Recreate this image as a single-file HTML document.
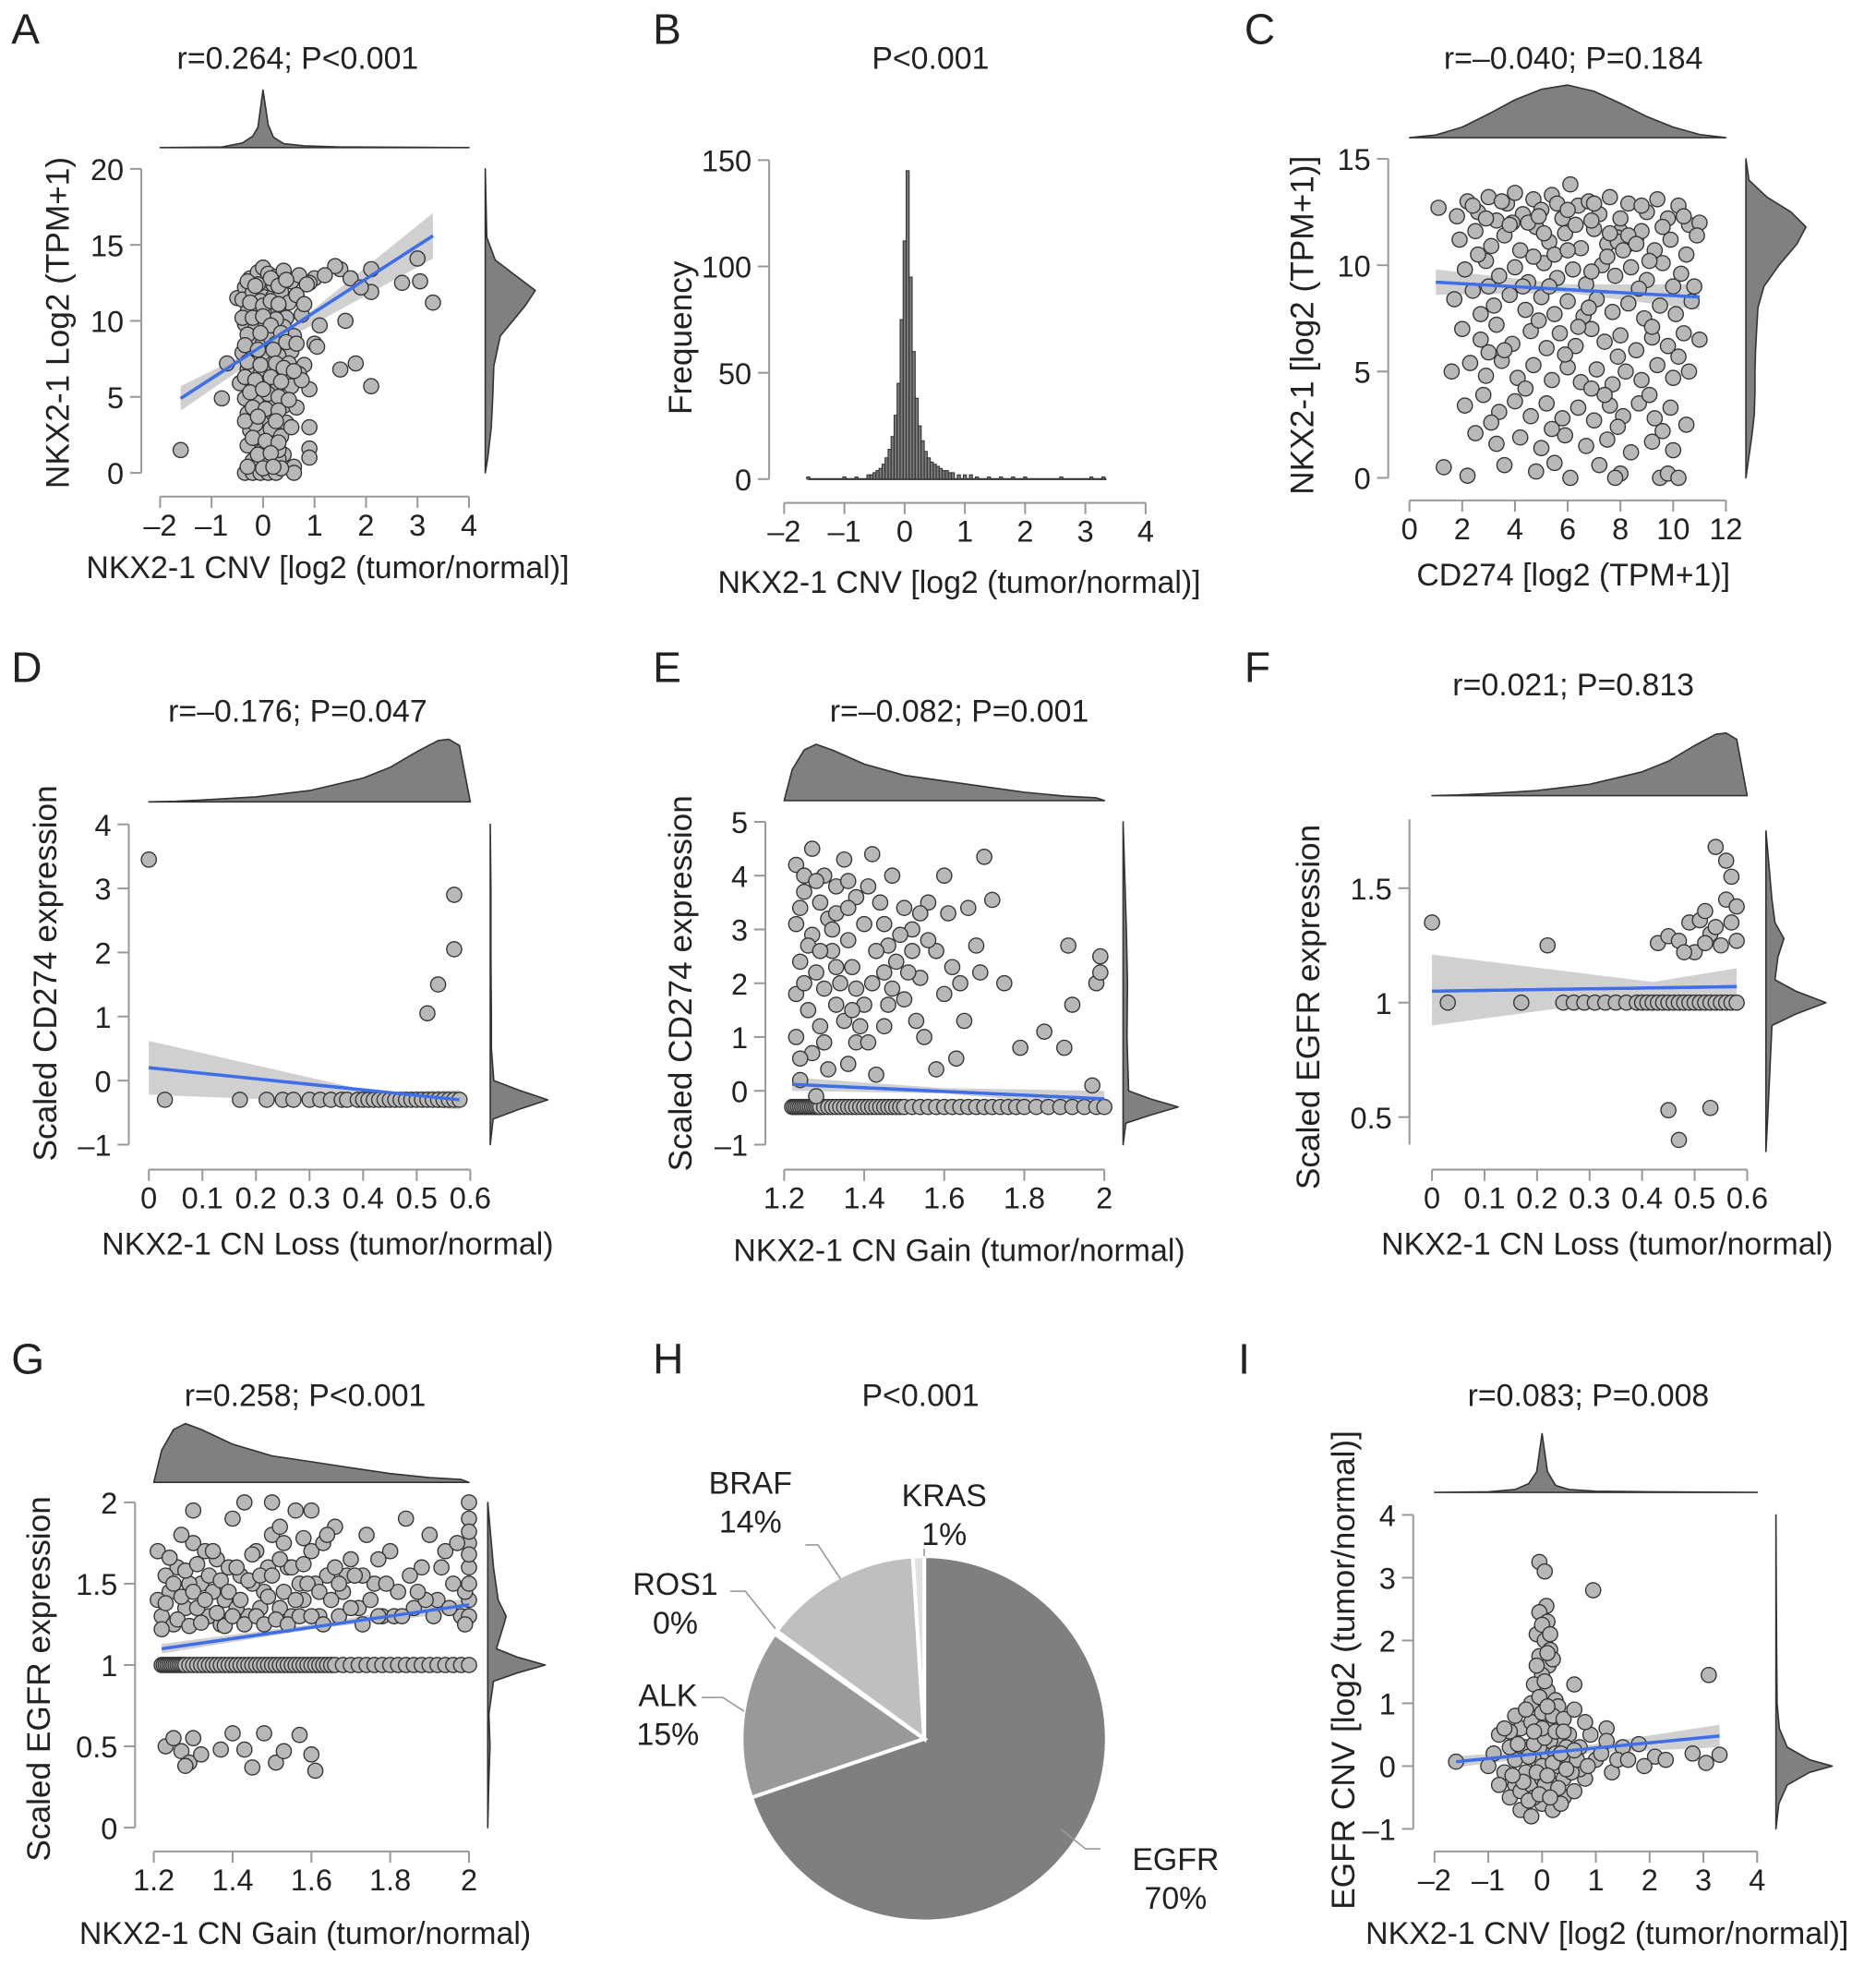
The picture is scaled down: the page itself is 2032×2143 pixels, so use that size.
<!DOCTYPE html>
<html><head><meta charset="utf-8"><style>
html,body{margin:0;padding:0;background:#fff;}
svg{display:block;font-family:"Liberation Sans",Arial,sans-serif;}
</style></head><body>
<svg id="fig" width="2032" height="2143" viewBox="0 0 1500 1582" preserveAspectRatio="none" xmlns="http://www.w3.org/2000/svg"></svg>
<script>
// ---------- DATA ----------
const aPoints=[[-1.6,1.5],[-0.8,4.9],[-0.7,7.2],[-0.5,11.5],[1.1,9.7],[1.5,6.8],[1.6,10],[1.8,7.2],[2.1,5.7],[2.7,12.5],[3.05,12.6],[3.3,11.2],[3.0,14.1],[2.1,11.9],[2.1,13.4],[1.5,13.4],[1.4,13.6],[1.7,12.8],[1.9,12.2],[1.0,8.5],[1.05,8.3],[0.9,5.5],[0.9,3],[0.9,1.6],[0.9,1],[0.6,0.4],[0.8,7.1],[0.7,6.5],[1.0,12.8],[1.2,13],[0.9,12.5],
[-0.35,12.2],[-0.25,12.8],[-0.1,13.2],[0,13.5],[0.1,13.1],[0.25,12.9],[0.4,13.3],[0.55,12.6],[0.7,13.0],[0.85,12.4],[-0.4,11.4],[-0.2,11.9],[0.05,12.0],[0.2,11.6],[0.35,11.9],[0.5,11.2],[0.65,11.7],[-0.3,10.6],[-0.1,10.9],[0.1,10.4],[0.3,10.7],[0.45,10.2],[-0.35,9.8],[-0.15,9.5],[0.05,9.9],[0.2,9.3],[0.4,9.6],[-0.25,8.8],[0,8.6],[0.15,8.9],[0.35,8.3],[0.55,8.0],[-0.4,7.9],[-0.2,7.6],[0.1,7.4],[0.3,7.7],[0.5,7.2],[-0.3,6.8],[-0.05,6.5],[0.2,6.9],[0.45,6.4],[-0.45,5.9],[-0.2,5.6],[0.05,5.9],[0.25,5.4],[0.55,5.7],[-0.35,4.9],[-0.1,4.6],[0.15,4.8],[0.4,4.4],[-0.3,3.9],[0,3.6],[0.2,3.9],[0.45,3.3],[-0.25,2.8],[-0.05,2.5],[0.15,2.9],[0.35,2.4],[-0.3,1.8],[0,1.5],[0.2,1.9],[0.4,1.2],[-0.2,0.8],[0.05,0.6],[0.3,0.9],[-0.35,0],[-0.2,0],[-0.05,0],[0.1,0],[0.25,0],[0.1,12.5],[-0.05,11.3],[0.25,10.1],[0.0,7.9],[0.1,5.2],[-0.15,3.2],[0.3,1.5],[0.6,9.0],[0.65,4.3],[0.75,6.1],[0.6,0],[0.35,0.3],[-0.1,12.4],[0.2,12.4],
[-0.3,12.6],[-0.15,12.3],[0.15,12.8],[0.3,12.3],[0.45,12.7],[-0.25,11.2],[0,11.0],[0.15,11.3],[0.3,11.1],[-0.4,10.2],[-0.2,10.2],[0.0,10.3],[0.15,9.7],[0.35,9.2],[-0.3,9.1],[-0.05,9.2],[0.25,8.5],[0.45,8.6],[-0.35,8.4],[-0.1,8.1],[0.2,8.1],[-0.3,7.3],[-0.05,7.1],[0.25,7.2],[0.4,6.9],[-0.35,6.3],[-0.15,6.1],[0.15,6.3],[0.35,6.0],[-0.25,5.3],[0,5.5],[0.3,5.0],[-0.2,4.3],[0.05,4.2],[0.3,4.1],[-0.35,3.4],[-0.1,3.7],[0.25,3.4],[-0.2,2.3],[0.05,2.1],[0.3,2.0],[-0.1,1.2],[0.15,1.3],[-0.3,0.4],[0,0.3],[0.2,0.4],[0.55,3.0],[0.5,4.8],[0.6,6.7],[0.65,8.5],[0.75,10.4],[0.8,11.1]];
const aFit=[[-1.6,4.9],[3.3,15.6]];
const aBand=[[-1.6,4.1,5.7],[0.3,8.5,8.9],[3.3,14.1,17.1]];

const bBins=[-1.6,-1.0,-0.8,-0.6,-0.55,-0.5,-0.45,-0.4,-0.35,-0.3,-0.25,-0.2,-0.15,-0.1,-0.05,0,0.05,0.1,0.15,0.2,0.25,0.3,0.35,0.4,0.45,0.5,0.55,0.6,0.65,0.7,0.75,0.8,0.9,1.0,1.1,1.2,1.4,1.6,1.8,2.0,2.6,3.1,3.3];
const bCounts=[1,1,1,2,2,3,4,5,7,10,14,20,30,45,75,112,145,95,60,38,25,18,13,10,8,7,6,5,4,4,3,3,2,2,2,1,1,1,1,1,1,1,1];

const cPoints=[[1.1,12.7],[1.8,12.3],[2.2,13.0],[2.6,12.5],[3.0,13.2],[3.3,12.1],[3.7,12.9],[4.0,13.4],[4.3,12.4],[4.7,13.1],[5.0,12.6],[5.4,13.3],[5.8,12.2],[6.1,13.8],[6.4,12.8],[6.8,13.0],[7.2,12.4],[7.6,13.2],[8.0,11.6],[8.3,12.9],[8.6,11.3],[9.0,12.5],[9.4,13.1],[9.8,12.2],[10.2,12.8],[10.6,11.9],[11.0,12.0],
[1.9,11.2],[2.5,11.6],[3.1,10.9],[3.6,11.4],[4.2,10.7],[4.8,11.8],[5.3,11.1],[5.9,11.5],[6.5,10.8],[7.0,11.7],[7.5,11.0],[7.9,11.3],[8.2,10.9],[8.8,11.6],[9.3,10.7],[9.9,11.2],[10.5,10.5],[10.9,11.4],
[2.1,9.8],[2.9,10.2],[3.4,9.5],[4.0,9.9],[4.5,9.2],[5.1,10.1],[5.6,9.4],[6.2,9.8],[6.7,9.1],[7.3,10.0],[7.8,9.5],[8.4,9.9],[9.0,9.3],[9.6,10.1],[10.3,9.6],[10.8,9.0],
[1.7,8.4],[2.4,8.8],[3.2,8.1],[3.8,8.6],[4.4,7.9],[5.0,8.5],[5.5,7.7],[6.0,8.3],[6.6,7.6],[7.1,8.4],[7.7,7.8],[8.3,8.2],[8.9,7.5],[9.5,8.1],[10.1,7.7],[10.7,8.3],
[2.0,7.0],[2.7,6.5],[3.3,7.2],[3.9,6.3],[4.6,6.9],[5.2,6.1],[5.7,6.8],[6.3,6.2],[6.9,7.0],[7.4,6.4],[8.0,6.7],[8.6,6.0],[9.2,6.6],[9.8,6.2],[10.4,6.8],[11.0,6.5],
[1.6,5.0],[2.3,5.4],[2.9,4.8],[3.5,5.5],[4.1,4.7],[4.7,5.3],[5.4,4.6],[6.0,5.2],[6.5,4.5],[7.1,5.1],[7.7,4.4],[8.2,5.0],[8.8,4.6],[9.4,5.3],[10.0,4.7],[10.6,5.0],
[2.1,3.4],[2.8,3.9],[3.4,3.1],[4.0,3.6],[4.6,2.9],[5.2,3.5],[5.8,2.8],[6.4,3.3],[7.0,2.7],[7.6,3.4],[8.1,2.9],[8.7,3.5],[9.3,2.8],[9.9,3.3],[10.5,2.5],
[2.5,2.1],[3.3,1.6],[4.2,1.9],[5.0,1.4],[5.9,2.0],[6.7,1.5],[7.5,1.8],[8.4,1.2],[9.2,1.7],[10.0,1.3],
[1.3,0.5],[2.2,0.1],[3.6,0.6],[4.8,0.3],[6.1,0.0],[7.2,0.6],[8.0,0.2],[9.5,0.0],[9.8,0.2],[10.2,0.0],[5.5,0.7],[7.8,0.0],
[7.9,11.1],[8.3,11.4],[8.1,10.7],[7.6,11.5],[8.6,11.0],[4.5,12.0],[5.6,12.9],[3.9,12.0],[6.9,12.1],[2.9,12.2],[5.5,10.5],[4.3,9.0],[6.4,7.1],[3.0,5.9],[7.4,3.9],
[2.4,12.8],[3.5,13.0],[4.9,12.3],[6.0,12.6],[7.0,12.9],[8.8,12.8],[9.6,11.8],[10.4,12.3],[3.8,11.9],[5.1,11.5],[6.3,11.9],[8.0,12.2],[2.6,10.5],[4.7,10.4],[6.0,10.7],[7.5,10.4],[9.1,10.2],[3.0,9.0],[5.3,9.0],[6.9,9.7],[8.7,8.9],[10.0,9.0],[2.7,7.7],[4.9,7.4],[6.8,8.0],[9.2,7.1],[3.6,6.0],[5.9,5.8],[7.9,5.7],[10.2,5.7],[4.4,4.2],[6.9,4.2],[9.1,3.9],[3.1,2.6],[5.4,2.3],[7.9,2.4],[9.6,2.2]];
const cFit=[[1,9.2],[11,8.5]];
const cBand=[[1,8.6,9.8],[6,8.7,9.1],[11,7.9,9.1]];

const dRowX=[0.03,0.17,0.22,0.25,0.27,0.3,0.32,0.34,0.36,0.37,0.39,0.4,0.41,0.42,0.43,0.44,0.45,0.46,0.47,0.48,0.49,0.5,0.51,0.52,0.53,0.54,0.55,0.56,0.57,0.58];
const dRowY=-0.3;
const dExtra=[[0,3.45],[0.52,1.05],[0.54,1.5],[0.57,2.05],[0.57,2.9]];
const dFit=[[0,0.2],[0.58,-0.3]];
const dBand=[[0,-0.22,0.62],[0.42,-0.36,-0.18],[0.58,-0.45,-0.15]];

const eRowX=[1.22,1.225,1.23,1.235,1.24,1.245,1.25,1.255,1.26,1.265,1.27,1.275,1.28,1.285,1.29,1.3,1.31,1.32,1.33,1.34,1.35,1.36,1.37,1.38,1.39,1.4,1.41,1.42,1.43,1.44,1.45,1.46,1.47,1.48,1.49,1.5,1.52,1.54,1.56,1.58,1.6,1.62,1.64,1.66,1.68,1.7,1.72,1.74,1.76,1.78,1.8,1.83,1.86,1.89,1.92,1.95,1.98,2.0];
const eRowY=-0.3;
const eExtra=[[1.23,4.2],[1.27,4.5],[1.3,4.0],[1.35,4.3],[1.42,4.4],[1.47,4.0],[1.25,3.7],[1.29,3.5],[1.33,3.8],[1.38,3.6],[1.44,3.5],[1.5,3.4],[1.56,3.5],[1.61,3.3],[1.66,3.4],[1.23,3.1],[1.27,2.9],[1.31,3.2],[1.36,2.8],[1.4,3.1],[1.46,2.7],[1.52,3.0],[1.58,2.6],[1.68,2.7],[1.24,2.4],[1.28,2.2],[1.32,2.6],[1.37,2.3],[1.42,2.0],[1.48,2.4],[1.54,2.1],[1.6,1.8],[1.23,1.8],[1.26,1.5],[1.3,1.9],[1.35,1.3],[1.4,1.6],[1.45,1.2],[1.5,1.7],[1.23,1.0],[1.27,0.7],[1.31,0.4],[1.38,0.9],[1.43,0.3],[1.55,1.0],[1.63,0.6],[1.24,0.2],[1.28,-0.1],[1.6,4.0],[1.7,4.35],[1.72,3.55],[1.75,2.0],[1.79,0.8],[1.85,1.1],[1.9,0.8],[1.91,2.7],[1.92,1.6],[1.97,0.1],[1.98,2.0],[1.99,2.5],[1.99,2.2],[1.65,1.3],[1.58,0.4],[1.34,2.0],[1.45,2.2],[1.26,2.7],[1.39,1.2],[1.52,2.6],[1.62,2.3],[1.33,3.3],[1.25,4.0],[1.36,3.9],
[1.24,3.4],[1.28,3.9],[1.32,3.0],[1.36,3.4],[1.41,3.8],[1.45,3.1],[1.49,2.9],[1.54,3.3],[1.25,2.0],[1.29,2.6],[1.33,2.3],[1.38,1.9],[1.43,2.6],[1.47,1.9],[1.51,2.2],[1.56,2.8],[1.29,1.2],[1.33,1.6],[1.37,1.5],[1.41,0.9],[1.46,1.6],[1.53,1.3],[1.24,0.6],[1.3,0.9],[1.36,0.5],[1.64,2.0],[1.69,2.2]];
const eFit=[[1.22,0.12],[2,-0.15]];
const eBand=[[1.22,0.0,0.25],[1.6,-0.05,0.05],[2,-0.3,0.0]];

const fRowX=[0.17,0.25,0.27,0.29,0.31,0.33,0.35,0.37,0.39,0.4,0.41,0.42,0.43,0.44,0.45,0.46,0.47,0.48,0.49,0.5,0.51,0.52,0.53,0.54,0.55,0.56,0.57,0.58];
const fRowY=1;
const fExtra=[[0,1.35],[0.03,1.0],[0.22,1.25],[0.45,0.53],[0.47,0.4],[0.53,0.54],[0.43,1.26],[0.45,1.29],[0.47,1.27],[0.49,1.35],[0.5,1.22],[0.51,1.36],[0.52,1.4],[0.53,1.3],[0.54,1.68],[0.55,1.25],[0.56,1.62],[0.56,1.45],[0.57,1.35],[0.57,1.55],[0.58,1.27],[0.58,1.42],[0.48,1.22],[0.54,1.33],[0.52,1.26]];
const fFit=[[0,1.05],[0.58,1.07]];
const fBand=[[0,0.9,1.21],[0.42,1.03,1.09],[0.58,0.99,1.15]];

const gRowX=[1.22,1.225,1.23,1.235,1.24,1.245,1.25,1.255,1.26,1.265,1.27,1.275,1.28,1.29,1.3,1.31,1.32,1.33,1.34,1.35,1.36,1.37,1.38,1.39,1.4,1.41,1.42,1.43,1.44,1.45,1.46,1.47,1.48,1.49,1.5,1.51,1.52,1.53,1.54,1.55,1.56,1.57,1.58,1.59,1.6,1.61,1.62,1.63,1.64,1.65,1.66,1.68,1.7,1.72,1.74,1.76,1.78,1.8,1.82,1.84,1.86,1.88,1.9,1.92,1.94,1.96,1.98,2.0];
const gRowY=1;
const gExtra=[[1.23,0.5],[1.25,0.55],[1.27,0.47],[1.29,0.4],[1.3,0.55],[1.32,0.45],[1.37,0.48],[1.4,0.58],[1.43,0.48],[1.48,0.58],[1.51,0.4],[1.53,0.47],[1.57,0.57],[1.6,0.45],[1.61,0.35],[1.28,0.38],[1.45,0.37],
[1.22,1.3],[1.24,1.45],[1.26,1.6],[1.28,1.35],[1.3,1.75],[1.32,1.5],[1.34,1.3],[1.36,1.65],[1.38,1.4],[1.4,1.9],[1.42,1.55],[1.44,1.3],[1.46,1.7],[1.48,1.45],[1.5,1.8],[1.52,1.35],[1.54,1.6],[1.56,1.95],[1.58,1.4],[1.6,1.7],[1.62,1.3],[1.64,1.55],[1.66,1.85],[1.68,1.45],[1.7,1.65],[1.72,1.35],[1.74,1.8],[1.76,1.5],[1.78,1.3],[1.8,1.7],[1.82,1.45],[1.84,1.9],[1.86,1.35],[1.88,1.6],[1.9,1.8],[1.92,1.4],[1.94,1.7],[1.96,1.5],[1.98,1.3],[2.0,1.6],[2.0,1.75],[2.0,1.4],[2.0,1.9],[2.0,2.0],
[1.23,1.55],[1.25,1.25],[1.27,1.8],[1.29,1.5],[1.31,1.35],[1.33,1.7],[1.35,1.45],[1.37,1.25],[1.39,1.6],[1.41,1.35],[1.43,2.0],[1.45,1.5],[1.47,1.35],[1.49,1.6],[1.53,1.75],[1.55,1.3],[1.57,1.5],[1.61,1.5],[1.63,1.75],[1.67,1.3],[1.69,1.55],[1.73,1.55],[1.77,1.65],[1.81,1.3],[1.85,1.55],[1.89,1.4],[1.93,1.6],[1.97,1.75],[1.99,1.45],[1.5,2.0],[1.6,1.95],[1.3,1.95],[1.21,1.7],[1.21,1.4],
[1.22,1.22],[1.23,1.38],[1.24,1.66],[1.25,1.5],[1.26,1.28],[1.27,1.42],[1.28,1.58],[1.29,1.24],[1.3,1.45],[1.31,1.62],[1.32,1.26],[1.33,1.4],[1.34,1.55],[1.35,1.7],[1.36,1.32],[1.37,1.52],[1.38,1.24],[1.39,1.45],[1.4,1.3],[1.41,1.6],[1.42,1.4],[1.43,1.25],[1.44,1.52],[1.45,1.68],[1.46,1.3],[1.47,1.55],[1.48,1.25],[1.49,1.42],[1.5,1.55],[1.51,1.28],[1.52,1.65],[1.53,1.45],[1.54,1.25],[1.55,1.6],[1.56,1.4],[1.57,1.3],[1.58,1.62],[1.59,1.5],[1.6,1.3],[1.62,1.45],[1.63,1.25],[1.65,1.4],[1.66,1.6],[1.67,1.5],[1.7,1.35],[1.71,1.55],[1.73,1.25],[1.75,1.4],[1.77,1.3],[1.79,1.5],[1.83,1.3],[1.87,1.45],[1.91,1.3],[1.95,1.35],[2.0,1.3],[2.0,1.5],[2.0,1.68],[2.0,1.82],[1.99,1.25],[1.52,1.85],[1.64,1.8],[1.58,1.78]];
const gFit=[[1.22,1.1],[2,1.37]];
const gBand=[[1.22,1.07,1.13],[1.6,1.22,1.25],[2,1.33,1.41]];

const pieLabels=["EGFR","ALK","ROS1","BRAF","KRAS"];
const pieValues=[70,15,0.3,14,1];
const piePct=["70%","15%","0%","14%","1%"];

const iPoints=[[-1.6,0.07],[1.5,0.3],[2.1,0.15],[2.3,0.1],[2.8,0.2],[3.1,1.45],[3.05,0.05],[3.3,0.18],[0.95,2.8],[0.6,1.3],[1.2,0.6],[1.3,-0.1],[1.8,0.35],[-0.05,3.25],[0.05,3.1],[0.08,2.55],[-0.05,2.45],[0.1,2.3],[-0.1,2.1],[0.05,2.0],[0.15,1.85],[-0.05,1.75],[0.12,1.6],[0.0,1.45],[0.2,1.7],[-0.15,1.3],[0.1,1.2],[0.25,1.05],[-0.2,1.0],[0.3,0.95],[-0.4,0.6],[-0.6,0.55],[-0.8,0.5],[-0.9,0.2],[-0.7,-0.1],[-0.5,-0.3],[-0.6,-0.5],[-0.4,-0.7],[-0.2,-0.8],[0,-0.6],[0.2,-0.7],[0.4,-0.5],[0.6,-0.4],[0.8,-0.2],[1.0,0.1],[-0.3,0.3],[-0.1,0.5],[0.1,0.6],[0.3,0.4],[0.5,0.5],[0.7,0.3],[-0.5,0.1],[-0.3,-0.1],[-0.1,0.1],[0.1,0.2],[0.3,0.0],[0.5,0.1],[0.7,-0.05],[-0.4,-0.4],[-0.2,-0.3],[0,-0.2],[0.2,-0.3],[0.4,-0.2],[-0.6,0.3],[0.9,0.5],[1.1,0.2],[1.4,0.1],[-0.2,0.7],[0.0,0.85],[0.2,0.8],[0.4,0.75],[-0.5,0.8],[0.6,0.9],[0.8,0.7],[-0.8,-0.3],[-1.0,0.0],[-0.3,0.9],[0.15,0.4],[-0.15,-0.5],[0.35,-0.6],[0.55,-0.1],[1.2,0.4],[1.6,0.1],[1.9,0.0],[-0.7,0.6],[0.05,-0.3],[0.0,0.0],[-0.05,0.3],[0.25,0.2],[0.45,0.3],[0.65,0.1],[0.85,0.0],
[-0.25,0.15],[-0.15,0.35],[0.05,0.45],[0.2,0.05],[0.35,0.2],[-0.45,0.35],[-0.35,-0.25],[-0.1,-0.1],[0.1,-0.15],[0.3,-0.35],[-0.25,-0.55],[-0.05,-0.45],[0.15,-0.5],[0.45,-0.05],[0.6,0.25],[-0.55,-0.15],[0.0,0.6],[-0.15,0.55],[0.25,0.55],[0.4,0.55],[-0.05,1.1],[0.1,0.95],[0.05,1.35],[-0.1,1.6],[0.1,1.8],[0.0,2.25],[0.15,2.1]];
const iFit=[[-1.6,0.07],[3.3,0.48]];
const iBand=[[-1.6,-0.02,0.16],[0.3,0.18,0.26],[3.3,0.3,0.66]];

// ---------- HELPERS ----------
const NS="http://www.w3.org/2000/svg";
const svg=document.getElementById('fig');
const FT=25, FK=24;
function mk(tag,attrs,parent){const e=document.createElementNS(NS,tag);for(const k in attrs)e.setAttribute(k,attrs[k]);(parent||svg).appendChild(e);return e;}
function lin(d0,d1,r0,r1){return v=>r0+(v-d0)*(r1-r0)/(d1-d0);}
function txt(s,x,y,size,anchor,parent,name,rot){const t=mk('text',{x:x,y:y,'font-size':size,'text-anchor':anchor||'middle',fill:'#222'},parent);if(rot)t.setAttribute('transform','rotate(-90 '+x+' '+y+')');t.textContent=s;


return t;}
function fmt(v){return (v<0?'\u2013':'')+Math.abs(v);}
function axes(g,X,Y,xt,yt,xLine,yLine,yTickLab){
 const ya=mk('g',{},g);
 
 
 mk('line',{x1:yLine,x2:yLine,y1:Y(yt[0]),y2:Y(yt[yt.length-1]),stroke:'#999','stroke-width':1.5},ya);
 yt.forEach((v,i)=>{mk('line',{x1:yLine-9,x2:yLine,y1:Y(v),y2:Y(v),stroke:'#999','stroke-width':1.5},ya);
  txt(yTickLab?yTickLab[i]:fmt(v),yLine-14,Y(v)+9,FK,'end',ya,'y-tick-label');});
 const xa=mk('g',{},g);
 
 
 mk('line',{x1:X(xt[0]),x2:X(xt[xt.length-1]),y1:xLine,y2:xLine,stroke:'#999','stroke-width':1.5},xa);
 xt.forEach(v=>{mk('line',{x1:X(v),x2:X(v),y1:xLine,y2:xLine+9,stroke:'#999','stroke-width':1.5},xa);
  txt(fmt(v),X(v),xLine+31,FK,'middle',xa,'x-tick-label');});
}
function dots(g,pts,X,Y){pts.forEach(p=>{const c=mk('circle',{cx:X(p[0]),cy:Y(p[1]),r:6,fill:'#b8b8b8',stroke:'#333','stroke-width':1},g);
 
 });}
function fit(g,F,B,X,Y){
 let d='M'+B.map(b=>X(b[0])+','+Y(b[2])).join(' L')+' L'+B.slice().reverse().map(b=>X(b[0])+','+Y(b[1])).join(' L')+'Z';
 const p=mk('path',{d:d,fill:'#c8c8c8',opacity:0.85},g);
 
 
 const l=mk('line',{x1:X(F[0][0]),y1:Y(F[0][1]),x2:X(F[1][0]),y2:Y(F[1][1]),stroke:'#3f6fe8','stroke-width':2.5},g);
 
 
}
function dens(g,pos,h,M,base,maxPx,horiz){
 let pts=pos.map((p,i)=>horiz?[M(p),base-h[i]*maxPx]:[base+h[i]*maxPx,M(p)]);
 let d='M'+pts.map(p=>p[0].toFixed(1)+','+p[1].toFixed(1)).join(' L');
 if(horiz)d+=' L'+M(pos[pos.length-1])+','+base+' L'+M(pos[0])+','+base+'Z';
 else d+=' L'+base+','+M(pos[pos.length-1])+' L'+base+','+M(pos[0])+'Z';
 const p=mk('path',{d:d,fill:'#808080',stroke:'#333','stroke-width':1.2,'stroke-linejoin':'round'},g);
 
 
}
function panel(name,letter,lx,ly){const g=mk('g',{});
 txt(letter,lx,ly,34,'start',g,'panel-letter');return g;}
function rowPts(xs,y){return xs.map(x=>[x,y]);}

// ---------- PANEL A ----------
(function(){const g=panel('panel-a','A',9,35);
 const X=lin(-2,4,128,375),Y=lin(0,20,378,135);
 txt('r=0.264; P<0.001',238,55,FT,'middle',g,'panel-title');
 dens(g,[-2,-0.8,-0.4,-0.2,-0.1,0,0.1,0.2,0.4,0.8,1.5,4],[0,0.01,0.08,0.2,0.35,1,0.4,0.18,0.07,0.03,0.01,0],X,118,46,true);
 dens(g,[0,1,3,5,7,9,10,11,12,13,14,15.5,20],[0,0.05,0.12,0.15,0.17,0.3,0.55,0.8,1,0.6,0.2,0.03,0],Y,388,40,false);
 axes(g,X,Y,[-2,-1,0,1,2,3,4],[0,5,10,15,20],397,113);
 fit(g,aFit,aBand,X,Y);dots(g,aPoints,X,Y);fit(g,aFit,[[ -1.6,4.9,4.9],[3.3,15.6,15.6]],X,Y);
 txt('NKX2-1 CNV [log2 (tumor/normal)]',262,462,FT,'middle',g,'x-axis-title');
 txt('NKX2-1 Log2 (TPM+1)',55,258,FT+1,'middle',g,'y-axis-title',true);
})();

// ---------- PANEL B ----------
(function(){const g=panel('panel-b','B',522,35);
 const X=lin(-2,4,627,916),Y=lin(0,150,383,128);
 txt('P<0.001',744,55,FT,'middle',g,'panel-title');
 axes(g,X,Y,[-2,-1,0,1,2,3,4],[0,50,100,150],402,615);
 mk('line',{x1:X(-1.6),x2:X(3.35),y1:Y(0),y2:Y(0),stroke:'#333','stroke-width':1.5},g);
 const bw=X(0.05)-X(0);
 bBins.forEach((b,i)=>{const r=mk('rect',{x:X(b)-bw/2,y:Y(bCounts[i]),width:bw,height:Y(0)-Y(bCounts[i]),fill:'#7a7a7a',stroke:'#333','stroke-width':0.8},g);
  
  });
 txt('NKX2-1 CNV [log2 (tumor/normal)]',767,474,FT,'middle',g,'x-axis-title');
 txt('Frequency',553,270,FT+1,'middle',g,'y-axis-title',true);
})();

// ---------- PANEL C ----------
(function(){const g=panel('panel-c','C',995,35);
 const X=lin(0,12,1127,1380),Y=lin(0,15,382,127);
 txt('r=\u20130.040; P=0.184',1258,55,FT,'middle',g,'panel-title');
 dens(g,[0,1,2,3,4,5,6,7,8,9,10,11,12],[0,0.05,0.2,0.45,0.72,0.92,1,0.88,0.65,0.4,0.2,0.06,0],X,110,42,true);
 dens(g,[0,1,2,3,4,5,6,7,8,9,10,11,11.8,12.5,13.2,14,15],[0,0.05,0.1,0.14,0.15,0.15,0.16,0.18,0.2,0.3,0.55,0.85,1,0.75,0.35,0.05,0],Y,1396,48,false);
 axes(g,X,Y,[0,2,4,6,8,10,12],[0,5,10,15],400,1110);
 fit(g,cFit,cBand,X,Y);dots(g,cPoints,X,Y);fit(g,cFit,[[1,9.2,9.2],[11,8.5,8.5]],X,Y);
 txt('CD274 [log2 (TPM+1)]',1258,468,FT,'middle',g,'x-axis-title');
 txt('NKX2-1 [log2 (TPM+1)]',1050,260,FT+1,'middle',g,'y-axis-title',true);
})();

// ---------- PANEL D ----------
(function(){const g=panel('panel-d','D',9,545);
 const X=lin(0,0.6,119,376),Y=lin(-1,4,915,659);
 txt('r=\u20130.176; P=0.047',238,577,FT,'middle',g,'panel-title');
 dens(g,[0,0.05,0.1,0.2,0.3,0.4,0.45,0.5,0.54,0.56,0.58,0.6],[0,0.01,0.03,0.08,0.18,0.38,0.55,0.8,0.98,1,0.9,0],X,641,50,true);
 dens(g,[-1,-0.6,-0.45,-0.3,-0.15,0,0.5,1,2,3,4],[0,0.05,0.5,1,0.5,0.06,0.02,0.02,0.01,0.01,0],Y,392,46,false);
 axes(g,X,Y,[0,0.1,0.2,0.3,0.4,0.5,0.6],[-1,0,1,2,3,4],935,103);
 fit(g,dFit,dBand,X,Y);dots(g,rowPts(dRowX,dRowY).concat(dExtra),X,Y);fit(g,dFit,[[0,0.2,0.2],[0.58,-0.3,-0.3]],X,Y);
 txt('NKX2-1 CN Loss (tumor/normal)',262,1003,FT,'middle',g,'x-axis-title');
 txt('Scaled CD274 expression',45,778,FT+1,'middle',g,'y-axis-title',true);
})();

// ---------- PANEL E ----------
(function(){const g=panel('panel-e','E',522,545);
 const X=lin(1.2,2,627,883),Y=lin(-1,5,915,657);
 txt('r=\u20130.082; P=0.001',767,577,FT,'middle',g,'panel-title');
 dens(g,[1.2,1.22,1.25,1.28,1.32,1.4,1.5,1.6,1.7,1.8,1.9,1.98,2],[0,0.55,0.9,1,0.9,0.65,0.45,0.35,0.25,0.15,0.08,0.05,0],X,640,45,true);
 dens(g,[-1,-0.6,-0.45,-0.3,-0.15,0,1,2,3,4,5],[0,0.05,0.5,1,0.5,0.1,0.07,0.08,0.06,0.03,0],Y,898,44,false);
 axes(g,X,Y,[1.2,1.4,1.6,1.8,2],[-1,0,1,2,3,4,5],935,612);
 fit(g,eFit,eBand,X,Y);dots(g,rowPts(eRowX,eRowY).concat(eExtra),X,Y);fit(g,eFit,[[1.22,0.12,0.12],[2,-0.15,-0.15]],X,Y);
 txt('NKX2-1 CN Gain (tumor/normal)',767,1008,FT,'middle',g,'x-axis-title');
 txt('Scaled CD274 expression',553,786,FT+1,'middle',g,'y-axis-title',true);
})();

// ---------- PANEL F ----------
(function(){const g=panel('panel-f','F',995,545);
 const X=lin(0,0.6,1145,1397),Y=lin(0.5,1.5,893,710);
 txt('r=0.021; P=0.813',1258,556,FT,'middle',g,'panel-title');
 dens(g,[0,0.05,0.1,0.2,0.3,0.4,0.45,0.5,0.54,0.56,0.58,0.6],[0,0.01,0.03,0.08,0.18,0.38,0.55,0.8,0.98,1,0.9,0],X,636,50,true);
 dens(g,[0.35,0.5,0.9,0.95,1,1.05,1.1,1.2,1.28,1.35,1.45,1.6,1.75],[0,0.03,0.1,0.5,1,0.5,0.15,0.2,0.3,0.15,0.1,0.05,0],Y,1412,48,false);
 axes(g,X,Y,[0,0.1,0.2,0.3,0.4,0.5,0.6],[0.5,1,1.5],935,1127,['0.5','1','1.5']);
 mk('line',{x1:1127,x2:1127,y1:655,y2:915,stroke:'#999','stroke-width':1.5},g);
 fit(g,fFit,fBand,X,Y);dots(g,rowPts(fRowX,fRowY).concat(fExtra),X,Y);fit(g,fFit,[[0,1.05,1.05],[0.58,1.07,1.07]],X,Y);
 txt('NKX2-1 CN Loss (tumor/normal)',1285,1003,FT,'middle',g,'x-axis-title');
 txt('Scaled EGFR expression',1055,805,FT+1,'middle',g,'y-axis-title',true);
})();

// ---------- PANEL G ----------
(function(){const g=panel('panel-g','G',9,1098);
 const X=lin(1.2,2,123,375),Y=lin(0,2,1461,1201);
 txt('r=0.258; P<0.001',244,1124,FT,'middle',g,'panel-title');
 dens(g,[1.2,1.22,1.25,1.28,1.32,1.4,1.5,1.6,1.7,1.8,1.9,1.98,2],[0,0.55,0.9,1,0.9,0.65,0.45,0.35,0.25,0.15,0.08,0.05,0],X,1185,47,true);
 dens(g,[0,0.3,0.5,0.7,0.9,0.95,1,1.05,1.1,1.25,1.3,1.4,1.6,1.8,2],[0,0.02,0.04,0.02,0.1,0.5,1,0.5,0.15,0.28,0.32,0.18,0.1,0.05,0],Y,390,46,false);
 axes(g,X,Y,[1.2,1.4,1.6,1.8,2],[0,0.5,1,1.5,2],1480,108,['0','0.5','1','1.5','2']);
 fit(g,gFit,gBand,X,Y);dots(g,rowPts(gRowX,gRowY).concat(gExtra),X,Y);fit(g,gFit,[[1.22,1.1,1.1],[2,1.37,1.37]],X,Y);
 txt('NKX2-1 CN Gain (tumor/normal)',244,1554,FT,'middle',g,'x-axis-title');
 txt('Scaled EGFR expression',40,1342,FT+1,'middle',g,'y-axis-title',true);
})();

// ---------- PANEL H ----------
(function(){const g=panel('panel-h','H',522,1098);
 txt('P<0.001',736,1124,FT,'middle',g,'panel-title');
 const cx=739,cy=1390,r=146,cols=['#7f7f7f','#999999','#aaaaaa','#bfbfbf','#e0e0e0'];
 const tot=pieValues.reduce((a,b)=>a+b,0);let a0=0;
 pieValues.forEach((v,i)=>{const a1=a0+v/tot*2*Math.PI;
  const p0=[cx+r*Math.sin(a0),cy-r*Math.cos(a0)],p1=[cx+r*Math.sin(a1),cy-r*Math.cos(a1)];
  const large=(a1-a0)>Math.PI?1:0;
  const s=mk('path',{d:`M${cx},${cy} L${p0[0]},${p0[1]} A${r},${r} 0 ${large} 1 ${p1[0]},${p1[1]} Z`,fill:cols[i],stroke:'#fff','stroke-width':3},g);
  
  
  a0=a1;});
 const leaders=[[[880,1478],[868,1478],[848,1462]],[[561,1357],[578,1357],[595,1368]],[[584,1272],[596,1272],[620,1302]],[[644,1235],[654,1235],[672,1262]],[[739,1238],[739,1244]]];
 leaders.forEach(l=>{const p=mk('polyline',{points:l.map(q=>q.join(',')).join(' '),fill:'none',stroke:'#999','stroke-width':1.2},g);
  
  });
 const lp=[[940,1495],[534,1364],[540,1275],[600,1194],[755,1204]];
 pieLabels.forEach((n,i)=>{txt(n,lp[i][0],lp[i][1],FT,'middle',g,'pie-label');txt(piePct[i],lp[i][0],lp[i][1]+31,FT,'middle',g,'pie-percent');});
})();

// ---------- PANEL I ----------
(function(){const g=panel('panel-i','I',990,1098);
 const X=lin(-2,4,1147,1405),Y=lin(-1,4,1462,1211);
 txt('r=0.083; P=0.008',1270,1124,FT,'middle',g,'panel-title');
 dens(g,[-2,-1,-0.5,-0.25,-0.1,0,0.1,0.25,0.5,1,2,4],[0,0.01,0.05,0.15,0.35,1,0.35,0.12,0.05,0.02,0.01,0],X,1193,47,true);
 dens(g,[-1,-0.6,-0.3,-0.1,0,0.1,0.3,0.6,1,2,3,4],[0,0.05,0.2,0.6,1,0.6,0.2,0.06,0.02,0.01,0.005,0],Y,1420,45,false);
 axes(g,X,Y,[-2,-1,0,1,2,3,4],[-1,0,1,2,3,4],1480,1130);
 fit(g,iFit,iBand,X,Y);dots(g,iPoints,X,Y);fit(g,iFit,[[-1.6,0.07,0.07],[3.3,0.48,0.48]],X,Y);
 txt('NKX2-1 CNV [log2 (tumor/normal)]',1285,1554,FT,'middle',g,'x-axis-title');
 txt('EGFR CNV [log2 (tumor/normal)]',1083,1335,FT+1,'middle',g,'y-axis-title',true);
})();
</script>
</body></html>
